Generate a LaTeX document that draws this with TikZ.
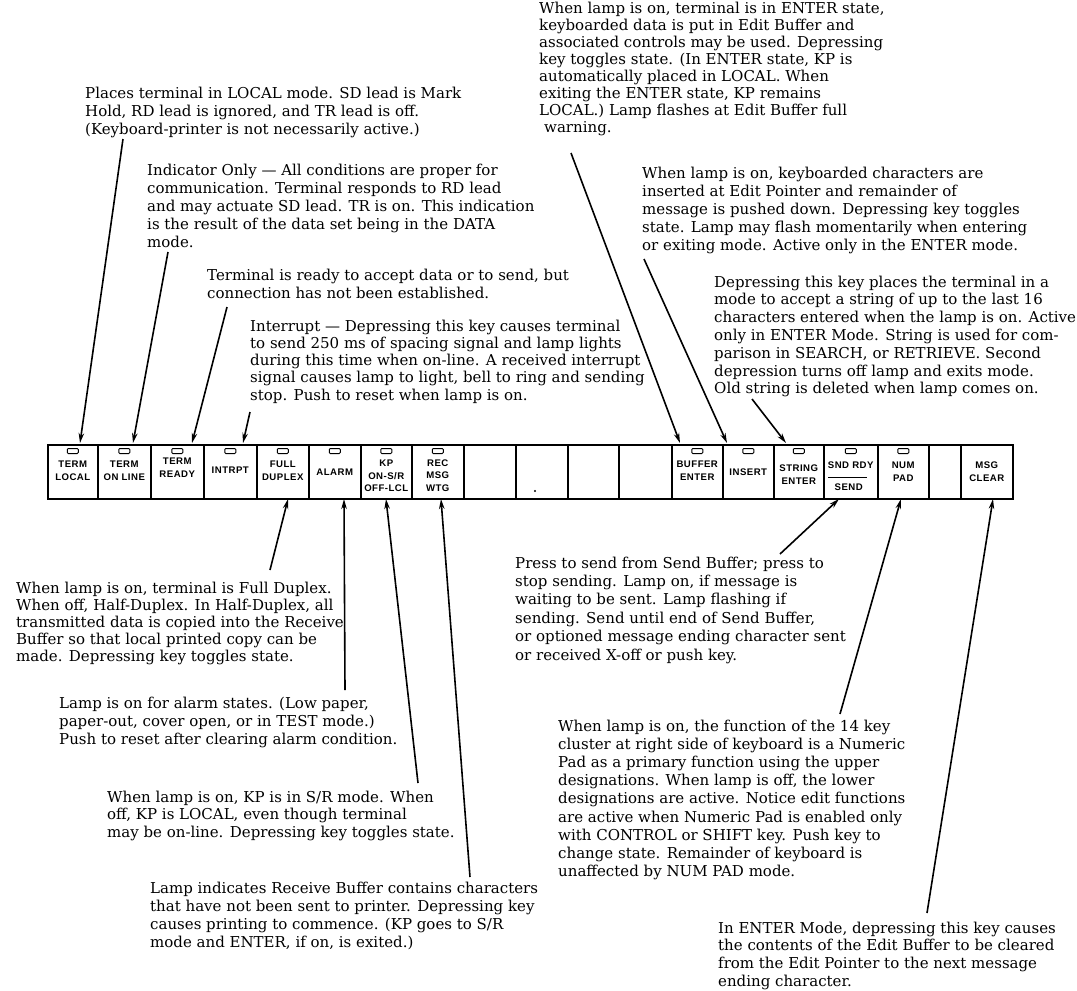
\documentclass[tikz,border=0pt]{standalone}
\usepackage{fontspec}
\setmainfont{DejaVu Serif}
\newfontfamily\keyfont[LetterSpace=5.0]{Liberation Sans}
\usetikzlibrary{arrows.meta}
\newcommand\blk[2]{\vtop{\baselineskip=#1pt\lineskip=0pt\lineskiplimit=-100pt\halign{##\hfil\cr#2\crcr}}}
\begin{document}
\begin{tikzpicture}[x=1pt,y=-1pt,
  txt/.style={anchor=base west, inner sep=0pt, font=\fontsize{15}{17.8}\selectfont},
  keybox/.style={draw, line width=1.5pt, inner sep=0pt, minimum height=54pt, anchor=north west},
  lamp/.style={draw, line width=1pt, rounded corners=1pt, minimum width=11pt, minimum height=5pt, inner sep=0pt},
  klabel/.style={font=\keyfont\bfseries\fontsize{9.6}{12.7}\selectfont, align=center, inner sep=0pt},
  leader/.style={line width=1.6pt, -{Stealth[length=10pt,width=5.5pt]}}
]
\useasboundingbox (0,0) rectangle (1077,991);

% keys
\foreach \i/\l/\r in {1/47/97,2/97/150,3/150/203,4/203/256,5/256/308,6/308/360,7/360/411,8/411/463,9/463/515,10/515/567,11/567/618,12/618/671,13/671/722,14/722/773,15/773/823,16/823/877,17/877/928,18/928/960,19/960/1012}
  \node[keybox, minimum width={\r-\l}] (k\i) at (\l,444) {};
\foreach \i in {1,...,8,13,14,15,16,17}
  \node[lamp] (l\i) at ([yshift=-7pt]k\i.north) {};

\node[klabel] (n1) at ([yshift=-26.5pt]k1.north) {TERM\\LOCAL};
\node[klabel] (n2) at ([yshift=-26.5pt]k2.north) {TERM\\ON LINE};
\node[klabel] (n3) at ([yshift=-24pt]k3.north) {TERM\\READY};
\node[klabel] (n4) at ([yshift=-26pt]k4.north) {INTRPT};
\node[klabel] (n5) at ([yshift=-26.5pt]k5.north) {FULL\\DUPLEX};
\node[klabel] (n6) at ([yshift=-28pt]k6.north) {ALARM};
\node[klabel] (n7) at ([yshift=-32pt]k7.north) {KP\\ON-S/R\\OFF-LCL};
\node[klabel] (n8) at ([yshift=-31.5pt]k8.north) {REC\\MSG\\WTG};
\node[klabel] (n13) at ([yshift=-27pt]k13.north) {BUFFER\\ENTER};
\node[klabel] (n14) at ([yshift=-28pt]k14.north) {INSERT};
\node[klabel] (n15) at ([yshift=-30.5pt]k15.north) {STRING\\ENTER};
\node[klabel] (n16a) at ([yshift=-21pt]k16.north) {SND RDY};
\node[klabel] (n16b) at ([xshift=-2pt,yshift=-43pt]k16.north) {SEND};
\draw[line width=1pt] (828,477) -- (867,477);
\node[klabel] (n17) at ([yshift=-28pt]k17.north) {NUM\\PAD};
\node[klabel] (n19) at ([yshift=-28pt]k19.north) {MSG\\CLEAR};
\fill (535,491) circle (1.1pt);

% text blocks
\node[txt] (tA) at (85,98) {\blk{18}{Places terminal in LOCAL mode. SD lead is Mark\cr
Hold, RD lead is ignored, and TR lead is off.\cr
(Keyboard-printer is not necessarily active.)}};
\node[txt] (tB) at (147,175) {\blk{18}{Indicator Only --- All conditions are proper for\cr
communication. Terminal responds to RD lead\cr
and may actuate SD lead. TR is on. This indication\cr
is the result of the data set being in the DATA\cr
mode.}};
\node[txt] (tC) at (207,280) {\blk{18}{Terminal is ready to accept data or to send, but\cr
connection has not been established.}};
\node[txt] (tD) at (250,331) {\blk{17.3}{Interrupt --- Depressing this key causes terminal\cr
to send 250 ms of spacing signal and lamp lights\cr
during this time when on-line. A received interrupt\cr
signal causes lamp to light, bell to ring and sending\cr
stop. Push to reset when lamp is on.}};
\node[txt] (tE) at (539,13.5) {\blk{17}{When lamp is on, terminal is in ENTER state,\cr
keyboarded data is put in Edit Buffer and\cr
associated controls may be used. Depressing\cr
key toggles state. (In ENTER state, KP is\cr
automatically placed in LOCAL. When\cr
exiting the ENTER state, KP remains\cr
LOCAL.) Lamp flashes at Edit Buffer full\cr
\hspace{5pt}warning.}};
\node[txt] (tF) at (642,178) {\blk{18.1}{When lamp is on, keyboarded characters are\cr
inserted at Edit Pointer and remainder of\cr
message is pushed down. Depressing key toggles\cr
state. Lamp may flash momentarily when entering\cr
or exiting mode. Active only in the ENTER mode.}};
\node[txt] (tG) at (714,287) {\blk{17.8}{Depressing this key places the terminal in a\cr
mode to accept a string of up to the last 16\cr
characters entered when the lamp is on. Active\cr
only in ENTER Mode. String is used for com-\cr
parison in SEARCH, or RETRIEVE. Second\cr
depression turns off lamp and exits mode.\cr
Old string is deleted when lamp comes on.}};
\node[txt] (tH) at (16,593) {\blk{17.2}{When lamp is on, terminal is Full Duplex.\cr
When off, Half-Duplex. In Half-Duplex, all\cr
transmitted data is copied into the Receive\cr
Buffer so that local printed copy can be\cr
made. Depressing key toggles state.}};
\node[txt] (tI) at (59,708) {\blk{18}{Lamp is on for alarm states. (Low paper,\cr
paper-out, cover open, or in TEST mode.)\cr
Push to reset after clearing alarm condition.}};
\node[txt] (tJ) at (107,802) {\blk{17.5}{When lamp is on, KP is in S/R mode. When\cr
off, KP is LOCAL, even though terminal\cr
may be on-line. Depressing key toggles state.}};
\node[txt] (tK) at (150,893) {\blk{18}{Lamp indicates Receive Buffer contains characters\cr
that have not been sent to printer. Depressing key\cr
causes printing to commence. (KP goes to S/R\cr
mode and ENTER, if on, is exited.)}};
\node[txt] (tL) at (515,568) {\blk{18.4}{Press to send from Send Buffer; press to\cr
stop sending. Lamp on, if message is\cr
waiting to be sent. Lamp flashing if\cr
sending. Send until end of Send Buffer,\cr
or optioned message ending character sent\cr
or received X-off or push key.}};
\node[txt] (tM) at (558,731) {\blk{18.2}{When lamp is on, the function of the 14 key\cr
cluster at right side of keyboard is a Numeric\cr
Pad as a primary function using the upper\cr
designations. When lamp is off, the lower\cr
designations are active. Notice edit functions\cr
are active when Numeric Pad is enabled only\cr
with CONTROL or SHIFT key. Push key to\cr
change state. Remainder of keyboard is\cr
unaffected by NUM PAD mode.}};
\node[txt] (tN) at (718,933) {\blk{17.7}{In ENTER Mode, depressing this key causes\cr
the contents of the Edit Buffer to be cleared\cr
from the Edit Pointer to the next message\cr
ending character.}};

% leader end points
\coordinate (s1) at (123,139);  \coordinate (e1) at (80,443);
\coordinate (s2) at (168,252);  \coordinate (e2) at (133,443);
\coordinate (s3) at (227,307);  \coordinate (e3) at (192,443);
\coordinate (s4) at (250,412);  \coordinate (e4) at (243,443);
\coordinate (s5) at (571,153);  \coordinate (e5) at (680,443);
\coordinate (s6) at (644,259);  \coordinate (e6) at (727,443);
\coordinate (s7) at (752,399);  \coordinate (e7) at (786,443);
\coordinate (s8) at (270,570);  \coordinate (e8) at (288,499);
\coordinate (s9) at (345,690);  \coordinate (e9) at (344,499);
\coordinate (s10) at (418,783); \coordinate (e10) at (386,499);
\coordinate (s11) at (470,877); \coordinate (e11) at (441,499);
\coordinate (s12) at (780,554); \coordinate (e12) at (839,499);
\coordinate (s13) at (840,714); \coordinate (e13) at (901,499);
\coordinate (s14) at (927,913); \coordinate (e14) at (993,499);
\foreach \i in {1,...,14}
  \draw[leader] (s\i) -- (e\i);
\end{tikzpicture}
\end{document}
